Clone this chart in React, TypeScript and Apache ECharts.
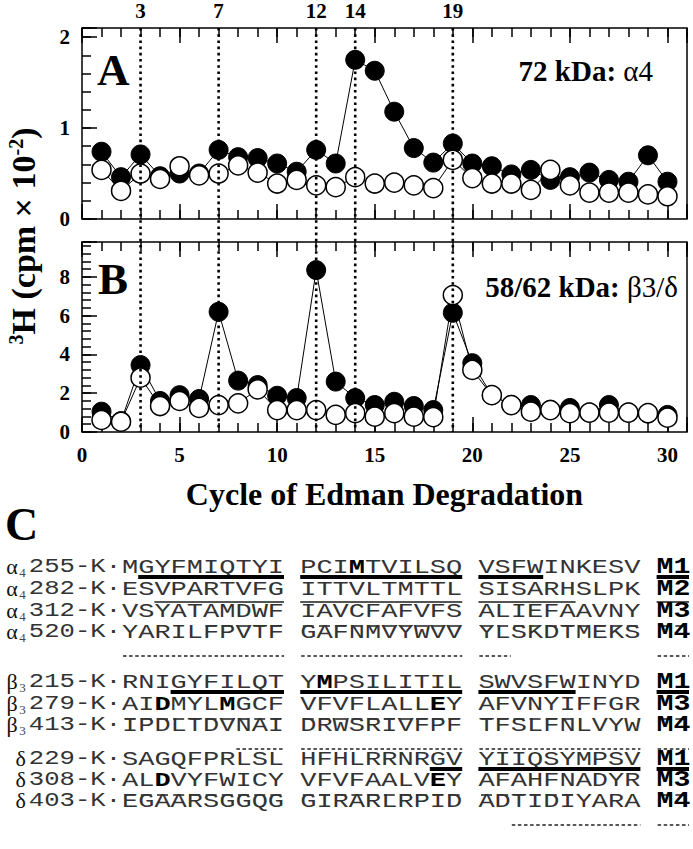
import React, { useEffect, useRef } from 'react';
import * as echarts from 'echarts';

// ---------- Data ----------
const cycles = [1, 2, 3, 4, 5, 6, 7, 8, 9, 10, 11, 12, 13, 14, 15, 16, 17, 18, 19, 20, 21, 22, 23, 24, 25, 26, 27, 28, 29, 30];
// Panel A (72 kDa: alpha4), 3H cpm x 10^-2
const aFilled = [0.74, 0.46, 0.71, 0.47, 0.50, 0.50, 0.76, 0.68, 0.67, 0.61, 0.52, 0.76, 0.61, 1.75, 1.63, 1.18, 0.78, 0.62, 0.83, 0.61, 0.58, 0.49, 0.54, 0.43, 0.46, 0.51, 0.43, 0.41, 0.70, 0.41];
const aOpen = [0.54, 0.31, 0.50, 0.44, 0.58, 0.48, 0.50, 0.59, 0.51, 0.39, 0.43, 0.37, 0.35, 0.46, 0.39, 0.40, 0.37, 0.34, 0.65, 0.45, 0.39, 0.39, 0.32, 0.54, 0.37, 0.29, 0.29, 0.29, 0.27, 0.25];
// Panel B (58/62 kDa: beta3/delta)
const bFilled = [1.05, 0.55, 3.45, 1.6, 1.9, 1.7, 6.2, 2.65, 2.42, 1.87, 1.75, 8.35, 2.6, 1.75, 1.39, 1.56, 1.34, 1.13, 6.15, 3.55, 1.9, 1.4, 1.39, 1.15, 1.24, 1.0, 1.39, 1.0, 0.95, 0.88];
const bOpen = [0.62, 0.53, 2.8, 1.34, 1.6, 1.24, 1.39, 1.48, 2.2, 1.13, 1.13, 1.13, 0.88, 0.97, 0.79, 0.97, 0.79, 0.77, 7.06, 3.2, 1.9, 1.39, 1.05, 1.13, 0.97, 1.0, 1.0, 1.0, 0.97, 0.74];
const markedCycles = [3, 7, 12, 14, 19];

// Panel C sequences
const seqPrefixes = [
  ['α', '4', '255'], ['α', '4', '282'], ['α', '4', '312'], ['α', '4', '520'],
  ['β', '3', '215'], ['β', '3', '279'], ['β', '3', '413'],
  ['δ', '', '229'], ['δ', '', '308'], ['δ', '', '403'],
];
const seqGroups = [
  ['MGYFMIQTYI', 'PCIMTVILSQ', 'VSFWINKESV'],
  ['ESVPARTVFG', 'ITTVLTMTTL', 'SISARHSLPK'],
  ['VSYATAMDWF', 'IAVCFAFVFS', 'ALIEFAAVNY'],
  ['YARILFPVTF', 'GAFNMVYWVV', 'YLSKDTMEKS'],
  ['RNIGYFILQT', 'YMPSILITIL', 'SWVSFWINYD'],
  ['AIDMYLMGCF', 'VFVFLALLEY', 'AFVNYIFFGR'],
  ['IPDLTDVNAI', 'DRWSRIVFPF', 'TFSLFNLVYW'],
  ['SAGQFPRLSL', 'HFHLRRNRGV', 'YIIQSYMPSV'],
  ['ALDVYFWICY', 'VFVFAALVEY', 'AFAHFNADYR'],
  ['EGAARSGGQG', 'GIRARLRPID', 'ADTIDIYARA'],
];
const seqBold = [
  [[], [3], []], [[], [], []], [[], [], []], [[], [], []],
  [[], [1], []], [[2, 6], [8], []], [[], [], []],
  [[], [], []], [[2], [8], []], [[], [], []],
];
const seqSegments = ['M1', 'M2', 'M3', 'M4', 'M1', 'M3', 'M4', 'M1', 'M3', 'M4'];
// [group (3 = segment label), first char, last char]
const seqMarks = [
  [[0, 1, 9], [1, 0, 9], [2, 0, 3], [3, 0, 1]],
  [[0, 2, 9], [1, 0, 9], [2, 0, 5], [3, 0, 1]],
  [[0, 5, 9], [1, 0, 9], [2, 0, 9], [3, 0, 1]],
  [[0, 0, 9], [1, 0, 9], [2, 0, 1], [3, 0, 1]],
  [[0, 3, 9], [1, 0, 9], [2, 0, 5], [3, 0, 1]],
  [[0, 0, 9], [1, 0, 9], [2, 0, 5], [3, 0, 1]],
  [[0, 7, 9], [1, 0, 9], [2, 0, 9], [3, 0, 1]],
  [[1, 8, 9], [2, 0, 9], [3, 0, 1]],
  [[0, 0, 9], [1, 0, 9], [2, 0, 5], [3, 0, 1]],
  [[2, 2, 9], [3, 0, 1]],
];

// ---------- Layout / style ----------
const SERIF = '"Liberation Serif", "Times New Roman", serif';
const MONO = '"Liberation Mono", "Courier New", monospace';
const rowY = [567, 589, 611, 632, 682, 704, 725, 759, 780, 801];
const SEQ_X0 = 122;
const PITCH = 16.2;
const SEQ_FS = 21;
const SEQ_SX = PITCH / (SEQ_FS * 0.6);
const segStyle: Record<string, any> = {
  M1: { w: 4, dash: null, off: 10, color: '#000', inset: 0 },
  M2: { w: 1.8, dash: null, off: 13, color: '#555', inset: 0 },
  M3: { w: 1.5, dash: [11, 5.2], off: 15, color: '#222', inset: 2.6 },
  M4: { w: 1.3, dash: [3.5, 2.6], off: 24, color: '#222', inset: 1 },
};

const tickLabel = { fontFamily: SERIF, fontWeight: 'bold', fontSize: 21, color: '#000' };

function xAxis(grid: number, pos: string, interval: number, len: number, labels: boolean, name?: string) {
  return {
    type: 'value', gridIndex: grid, position: pos, min: 0, max: 31, interval,
    axisLine: { show: false, onZero: false },
    splitLine: { show: false },
    axisTick: { show: true, inside: true, length: len, lineStyle: { color: '#000', width: 1.5 } },
    axisLabel: labels
      ? { show: true, ...tickLabel, margin: 12, formatter: (v: number) => (v % 5 === 0 ? String(v) : '') }
      : { show: false },
    name: name || '',
    nameLocation: 'middle',
    nameGap: 46,
    nameTextStyle: { fontFamily: SERIF, fontWeight: 'bold', fontSize: 32, color: '#000' },
  };
}
function yAxis(grid: number, max: number, interval: number, len: number, labelEvery: number) {
  return {
    type: 'value', gridIndex: grid, position: 'left', min: 0, max, interval,
    axisLine: { show: false, onZero: false },
    splitLine: { show: false },
    axisTick: { show: true, inside: true, length: len, lineStyle: { color: '#000', width: 1.5 } },
    axisLabel: labelEvery
      ? {
          show: true, ...tickLabel, margin: 12,
          formatter: (v: number) => (Math.abs(v / labelEvery - Math.round(v / labelEvery)) < 1e-6 ? String(v) : ''),
        }
      : { show: false },
  };
}

function pairs(ys: number[]) {
  return cycles.map((c, i) => [c, ys[i]]);
}

function seriesOf(xi: number, yi: number, data: number[], filled: boolean) {
  return {
    type: 'line', xAxisIndex: xi, yAxisIndex: yi, data: pairs(data),
    symbol: 'circle', symbolSize: 19, showSymbol: true,
    lineStyle: { color: '#000', width: 1 },
    itemStyle: filled
      ? { color: '#000', borderColor: '#000', borderWidth: 1 }
      : { color: '#fff', borderColor: '#000', borderWidth: 1.5 },
    z: filled ? 2 : 3,
    silent: true,
  };
}

function richSeq(s: string, bold: number[]) {
  let out = '';
  let cur = '';
  let curBold: boolean | null = null;
  for (let i = 0; i < s.length; i++) {
    const b = bold.indexOf(i) >= 0;
    if (curBold === null || b === curBold) {
      cur += s[i];
    } else {
      out += `{${curBold ? 'b' : 'n'}|${cur}}`;
      cur = s[i];
    }
    curBold = b;
  }
  if (cur) out += `{${curBold ? 'b' : 'n'}|${cur}}`;
  return out;
}

export default function App() {
  const ref = useRef<HTMLDivElement>(null);
  useEffect(() => {
    const chart = echarts.init(ref.current!, null, { renderer: 'svg' });
    const option: any = {
      animation: false,
      grid: [
        { left: 82, top: 28, width: 605, height: 191, show: true, borderColor: '#000', borderWidth: 1.5, backgroundColor: 'transparent' },
        { left: 82, top: 242, width: 605, height: 190, show: true, borderColor: '#000', borderWidth: 1.5, backgroundColor: 'transparent' },
      ],
      xAxis: [
        xAxis(0, 'bottom', 1, 9, false),
        xAxis(0, 'bottom', 5, 15, false),
        xAxis(0, 'top', 1, 9, false),
        xAxis(0, 'top', 5, 15, false),
        xAxis(1, 'bottom', 1, 9, false),
        xAxis(1, 'bottom', 5, 15, true, 'Cycle of Edman Degradation'),
        xAxis(1, 'top', 1, 9, false),
        xAxis(1, 'top', 5, 15, false),
      ],
      yAxis: [
        yAxis(0, 2.1, 0.2, 9, 0),
        yAxis(0, 2.1, 1, 15, 1),
        yAxis(1, 9.8, 0.4, 9, 0),
        yAxis(1, 9.8, 2, 15, 2),
      ],
      series: [
        seriesOf(0, 0, aFilled, true),
        seriesOf(0, 0, aOpen, false),
        seriesOf(4, 2, bFilled, true),
        seriesOf(4, 2, bOpen, false),
      ],
    };
    chart.setOption(option);

    const yTop = chart.convertToPixel({ yAxisIndex: 0 }, 2.1) as number;
    const yBot = chart.convertToPixel({ yAxisIndex: 2 }, 0) as number;
    const g: any[] = [];
    markedCycles.forEach((c) => {
      const x = chart.convertToPixel({ xAxisIndex: 0 }, c) as number;
      g.push({
        type: 'line', silent: true, z: 10,
        shape: { x1: x, y1: yTop, x2: x, y2: yBot },
        style: { stroke: '#000', lineWidth: 2.6, lineDash: [2.6, 3.6] },
      });
      g.push({
        type: 'text', x, y: 11, silent: true,
        style: { text: String(c), fontFamily: SERIF, fontWeight: 'bold', fontSize: 21, fill: '#000', align: 'center', verticalAlign: 'middle' },
      });
    });

    // Panel letters and labels
    const bigText = (text: string, x: number, y: number, size: number) => ({
      type: 'text', x, y, silent: true,
      style: { text, fontFamily: SERIF, fontWeight: 'bold', fontSize: size, fill: '#000', align: 'left', verticalAlign: 'middle' },
    });
    g.push(bigText('A', 97, 70, 45));
    g.push(bigText('B', 98, 279, 45));
    g.push(bigText('C', 5, 524, 46));
    g.push({
      type: 'text', x: 653, y: 71, silent: true,
      style: {
        text: '{b|72 kDa: }{n|α4}', align: 'right', verticalAlign: 'middle',
        rich: {
          b: { fontFamily: SERIF, fontWeight: 'bold', fontSize: 29, fill: '#000' },
          n: { fontFamily: SERIF, fontWeight: 'normal', fontSize: 29, fill: '#000' },
        },
      },
    });
    g.push({
      type: 'text', x: 678, y: 287, silent: true,
      style: {
        text: '{b|58/62 kDa: }{n|β3/δ}', align: 'right', verticalAlign: 'middle',
        rich: {
          b: { fontFamily: SERIF, fontWeight: 'bold', fontSize: 29, fill: '#000' },
          n: { fontFamily: SERIF, fontWeight: 'normal', fontSize: 29, fill: '#000' },
        },
      },
    });
    // Y axis title
    g.push({
      type: 'text', x: 23, y: 236, rotation: Math.PI / 2, silent: true,
      style: {
        text: '{s|3}{n|H (cpm × 10}{s|-2}{n|)}', align: 'center', verticalAlign: 'middle',
        rich: {
          n: { fontFamily: SERIF, fontWeight: 'bold', fontSize: 34, fill: '#000' },
          s: { fontFamily: SERIF, fontWeight: 'bold', fontSize: 20, fill: '#000', verticalAlign: 'top' },
        },
      },
    });

    // Panel C sequences
    seqPrefixes.forEach((p, r) => {
      const cy = rowY[r];
      const numScale = 1.22;
      const numW = 6 * SEQ_FS * 0.6 * numScale;
      g.push({
        type: 'text', x: SEQ_X0 - 1, y: cy, scaleX: numScale, silent: true,
        style: {
          text: `${p[2]}-K·`, fontFamily: MONO, fontSize: SEQ_FS, fill: '#333',
          align: 'right', verticalAlign: 'middle', lineHeight: 17,
        },
      });
      const gx = SEQ_X0 - 1 - numW - 3;
      if (p[1]) {
        g.push({
          type: 'text', x: gx, y: cy + 5, silent: true,
          style: { text: p[1], fontFamily: SERIF, fontSize: 13, fill: '#444', align: 'right', verticalAlign: 'middle' },
        });
      }
      g.push({
        type: 'text', x: p[1] ? gx - 8 : gx, y: cy - 1, silent: true,
        style: { text: p[0], fontFamily: SERIF, fontSize: 22, fill: '#111', align: 'right', verticalAlign: 'middle' },
      });
      seqGroups[r].forEach((s, gi) => {
        g.push({
          type: 'text', x: SEQ_X0 + gi * 11 * PITCH, y: cy, scaleX: SEQ_SX, silent: true,
          style: {
            text: richSeq(s, seqBold[r][gi]), align: 'left', verticalAlign: 'middle',
            rich: {
              n: { fontFamily: MONO, fontSize: SEQ_FS, fill: '#333', lineHeight: 17 },
              b: { fontFamily: MONO, fontSize: SEQ_FS, fontWeight: 'bold', fill: '#000', lineHeight: 17 },
            },
          },
        });
      });
      g.push({
        type: 'text', x: SEQ_X0 + 33 * PITCH, y: cy, scaleX: SEQ_SX, silent: true,
        style: { text: seqSegments[r], fontFamily: MONO, fontSize: SEQ_FS + 1, fontWeight: 'bold', fill: '#000', align: 'left', verticalAlign: 'middle', lineHeight: 17 },
      });
      const st = segStyle[seqSegments[r]];
      seqMarks[r].forEach((m) => {
        const [gi, a, b] = m;
        const x1 = SEQ_X0 + (gi * 11 + a) * PITCH + st.inset;
        const x2 = SEQ_X0 + (gi * 11 + b + 1) * PITCH;
        const style: any = { stroke: st.color, lineWidth: st.w };
        if (st.dash) style.lineDash = st.dash;
        g.push({ type: 'line', silent: true, shape: { x1, y1: cy + st.off, x2, y2: cy + st.off }, style });
      });
    });

    chart.setOption({ graphic: g });
    return () => chart.dispose();
  }, []);
  return <div ref={ref} style={{ position: 'absolute', left: 0, top: 0, width: 693, height: 849 }} />;
}
